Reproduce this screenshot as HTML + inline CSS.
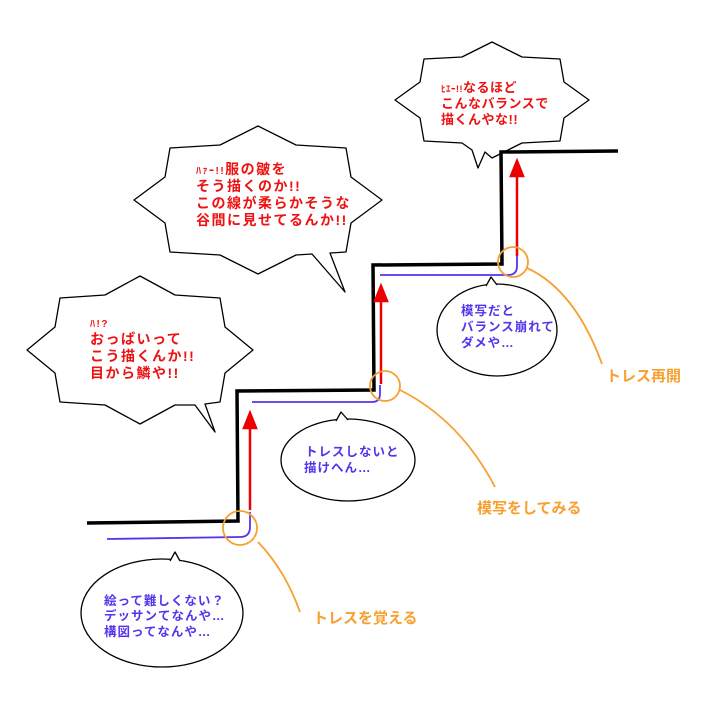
<!DOCTYPE html>
<html><head><meta charset="utf-8"><style>
html,body{margin:0;padding:0;background:#fff;}
svg{display:block;}
text{font-family:"Liberation Sans","Noto Sans CJK JP",sans-serif;font-weight:bold;}
</style></head><body>
<svg width="717" height="709" viewBox="0 0 717 709" xmlns="http://www.w3.org/2000/svg">
<rect width="717" height="709" fill="#fff"/>
<g fill="#fff" stroke="#000" stroke-width="1.3" stroke-linejoin="round">
<path d="M382,200 L351,223 L346,252 L330,253 L345,292 L312,254 L296,255 L258,274 L220,255 L170,252 L165,223 L134,200 L165,177 L170,148 L220,145 L258,126 L296,145 L346,148 L351,177 Z"/>
<path d="M253,350 L225,373 L220,402 L205,404 L215,432 L195,405 L175,405 L140,424 L105,405 L60,402 L55,373 L27,350 L55,327 L60,298 L105,295 L140,276 L175,295 L220,298 L225,327 Z"/>
<path d="M589,100 L564,118 L560,141 L522,143 L492,158 L485,152 L478,168 L472,150 L462,143 L424,141 L420,118 L395,100 L420,82 L424,59 L462,57 L492,42 L522,57 L560,59 L564,82 Z"/>
<ellipse cx="162" cy="613" rx="81" ry="54"/>
<path d="M170,561 L175,552 L180,561" />
<ellipse cx="348" cy="460" rx="67" ry="41"/>
<path d="M336,421 L341,412 L348,420"/>
<ellipse cx="497" cy="330" rx="60" ry="46"/>
<path d="M486,286 L491,277 L497,285"/>
</g>
<g fill="none" stroke="#000" stroke-width="3.5" stroke-linejoin="miter">
<path d="M87,523 L238,521 L237,391 L374,390 L373,265 L502,264 L501,152 L618,151"/>
</g>
<g fill="none" stroke="#5533ee" stroke-width="1.8">
<path d="M107,539 L240,537 Q250,537 250,527 L250,512"/>
<path d="M252,402 L372,402 Q380,402 380,394 L380,385"/>
<path d="M380,275 L508,275 Q517,275 517,266 L517,256"/>
</g>
<g stroke="#ee0000" stroke-width="2.5" fill="#ee0000">
<line x1="250" y1="510" x2="250" y2="420"/>
<path d="M244,428 L250,413 L256,428 Z"/>
<line x1="381" y1="384" x2="381" y2="293"/>
<path d="M375,301 L381,286 L387,301 Z"/>
<line x1="517" y1="256" x2="517" y2="168"/>
<path d="M511,176 L517,161 L523,176 Z"/>
</g>
<g fill="none" stroke="#f7a030" stroke-width="1.8">
<circle cx="240" cy="528" r="17"/>
<circle cx="385" cy="386" r="15"/>
<circle cx="513" cy="262" r="15"/>
<path d="M258,542 Q285,570 300,612"/>
<path d="M400,390 Q460,420 495,487"/>
<path d="M527,268 Q575,290 602,364"/>
</g>
<g fill="#f7a030" font-size="15">
<text x="313" y="623">トレスを覚える</text>
<text x="477" y="513">模写をしてみる</text>
<text x="606" y="381">トレス再開</text>
</g>
<g fill="#ee1111" font-size="14" letter-spacing="1.5">
<text x="196" y="174"><tspan font-size="10">ﾊｧｰ!!</tspan>服の皺を</text>
<text x="196" y="191">そう描くのか!!</text>
<text x="196" y="208">この線が柔らかそうな</text>
<text x="196" y="225">谷間に見せてるんか!!</text>
<text x="90" y="327" font-size="10">ﾊ!?</text>
<text x="90" y="344">おっぱいって</text>
<text x="90" y="361">こう描くんか!!</text>
<text x="90" y="378">目から鱗や!!</text>
</g>
<g fill="#ee1111" font-size="13" letter-spacing="0.5">
<text x="441" y="92"><tspan font-size="9">ﾋｴｰ!!</tspan>なるほど</text>
<text x="441" y="108">こんなバランスで</text>
<text x="441" y="124">描くんやな!!</text>
</g>
<g fill="#5533ee" font-size="12.5" letter-spacing="1">
<text x="104" y="605">絵って難しくない？</text>
<text x="104" y="620">デッサンてなんや…</text>
<text x="104" y="636">構図ってなんや…</text>
<text x="305" y="456">トレスしないと</text>
<text x="304" y="472">描けへん…</text>
<text x="461" y="315">模写だと</text>
<text x="461" y="331">バランス崩れて</text>
<text x="461" y="347">ダメや…</text>
</g>
</svg>
</body></html>
